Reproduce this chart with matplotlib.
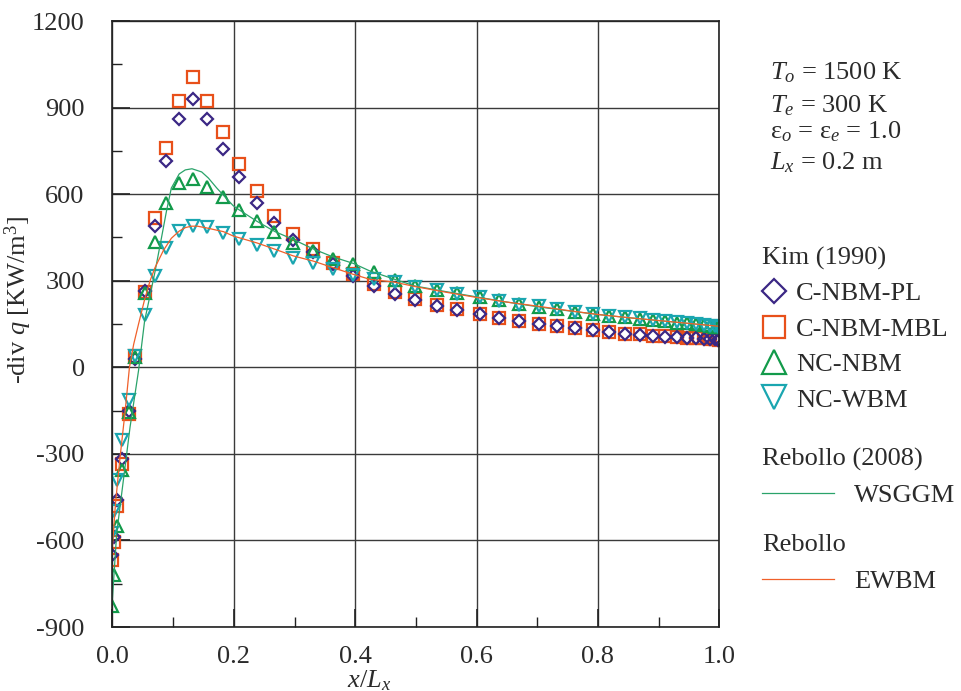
import numpy as np
import matplotlib.pyplot as plt
from matplotlib.ticker import MultipleLocator

plt.rcParams['font.family'] = 'Liberation Serif'
plt.rcParams['mathtext.fontset'] = 'custom'
plt.rcParams['mathtext.rm'] = 'Liberation Serif'
plt.rcParams['mathtext.it'] = 'Liberation Serif:italic'
plt.rcParams['axes.unicode_minus'] = False

# Kim (1990) reference solutions
x_kim = [0.000, 0.003, 0.008, 0.016, 0.027, 0.037, 0.053, 0.070, 0.089, 0.110,
         0.132, 0.156, 0.182, 0.208, 0.238, 0.267, 0.297, 0.330, 0.364, 0.397,
         0.431, 0.465, 0.498, 0.534, 0.567, 0.605, 0.637, 0.670, 0.703, 0.733,
         0.762, 0.792, 0.819, 0.845, 0.869, 0.891, 0.911, 0.930, 0.947, 0.961,
         0.974, 0.984, 0.993, 0.998, 1.000]
c_nbm_pl = [-650, -589, -460, -319, -150, 30, 265, 489, 716, 861,
            930, 861, 757, 661, 570, 500, 441, 400, 359, 317,
            282, 255, 234, 213, 200, 184, 170, 159, 150, 142,
            136, 129, 121, 115, 113, 109, 106, 104, 102, 101,
            99, 98, 97, 96, 95]
c_nbm_mbl = [-667, -604, -480, -334, -161, 40, 261, 518, 759, 923,
             1007, 923, 815, 704, 610, 524, 463, 409, 362, 324,
             288, 261, 236, 215, 203, 186, 172, 160, 151, 143,
             137, 130, 123, 117, 114, 110, 107, 105, 103, 101,
             100, 99, 98, 97, 96]
nc_nbm = [-828, -719, -550, -357, -155, 35, 258, 435, 570, 638,
          652, 625, 589, 545, 506, 468, 431, 403, 374, 357,
          330, 302, 282, 269, 256, 243, 232, 218, 210, 202,
          192, 184, 178, 173, 168, 163, 160, 155, 152, 150,
          147, 144, 141, 140, 139]
nc_wbm = [-573, -498, -389, -253, -113, 40, 181, 316, 412, 472,
          490, 485, 466, 443, 424, 403, 380, 362, 340, 320,
          305, 297, 279, 268, 254, 243, 231, 217, 211, 203,
          191, 185, 179, 174, 170, 164, 161, 156, 153, 150,
          147, 144, 142, 141, 140]

# Rebollo (2008) WSGGM
x_wsggm = [0.000, 0.007, 0.018, 0.029, 0.043, 0.053, 0.062, 0.070, 0.080, 0.089,
           0.097, 0.110, 0.120, 0.131, 0.147, 0.158, 0.172, 0.182, 0.199, 0.207,
           0.238, 0.268, 0.298, 0.331, 0.364, 0.397, 0.424, 0.465, 0.498, 0.550,
           0.600, 0.650, 0.700, 0.750, 0.800, 0.850, 0.900, 0.950, 1.000]
y_wsggm = [-800, -575, -391, -207, -11, 161, 250, 330, 440, 541,
           621, 670, 684, 688, 677, 656, 621, 598, 560, 548,
           506, 470, 443, 410, 382, 360, 334, 305, 282, 262,
           244, 226, 210, 196, 183, 172, 162, 152, 142]

# Rebollo EWBM
x_ewbm = [0.000, 0.005, 0.012, 0.021, 0.028, 0.035, 0.043, 0.053, 0.062, 0.070,
          0.084, 0.097, 0.110, 0.120, 0.130, 0.140, 0.155, 0.183, 0.199, 0.238,
          0.268, 0.298, 0.331, 0.364, 0.397, 0.424, 0.465, 0.498, 0.550, 0.600,
          0.650, 0.700, 0.750, 0.800, 0.850, 0.900, 0.950, 1.000]
y_ewbm = [-620, -472, -322, -150, 0, 80, 150, 235, 300, 345,
          405, 447, 472, 484, 489, 489, 483, 470, 455, 431,
          409, 386, 368, 345, 322, 305, 295, 280, 260, 242,
          226, 212, 197, 183, 172, 162, 152, 142]

txt = '#2b2b2b'

fig = plt.figure(figsize=(9.62, 6.91), dpi=100)
ax = fig.add_axes([0.1169, 0.0926, 0.6308, 0.877])

# markers first, lines on top
h_sq, = ax.plot(x_kim, c_nbm_mbl, 's', ms=8.6, mfc='none', mec='#e8501a', mew=1.6, ls='none', label='C-NBM-MBL')
h_di, = ax.plot(x_kim, c_nbm_pl, 'D', ms=6.4, mfc='none', mec='#3b2785', mew=1.6, ls='none', label='C-NBM-PL')
h_tr, = ax.plot(x_kim, nc_nbm, '^', ms=9, mfc='none', mec='#129a4a', mew=1.6, ls='none', label='NC-NBM')
h_it, = ax.plot(x_kim, nc_wbm, 'v', ms=9, mfc='none', mec='#1aa6b0', mew=1.6, ls='none', label='NC-WBM')
h_w, = ax.plot(x_wsggm, y_wsggm, '-', color='#2aa36a', lw=0.9, label='WSGGM')
h_e, = ax.plot(x_ewbm, y_ewbm, '-', color='#f0602a', lw=0.9, label='EWBM')

ax.set_xlim(0, 1)
ax.set_ylim(-900, 1200)
ax.xaxis.set_major_locator(MultipleLocator(0.2))
ax.xaxis.set_minor_locator(MultipleLocator(0.1))
ax.yaxis.set_major_locator(MultipleLocator(300))
ax.yaxis.set_minor_locator(MultipleLocator(150))
ax.set_xticks(np.arange(0, 1.01, 0.2))
ax.set_xticklabels(['0.0', '0.2', '0.4', '0.6', '0.8', '1.0'])
ax.grid(True, which='major', color='#3a3a3a', lw=1.0)
for s in ax.spines.values():
    s.set_color('#222222')
    s.set_linewidth(1.2)
ax.tick_params(which='both', direction='in', top=False, right=False, colors='#222222', labelcolor=txt, labelsize=19)
ax.tick_params(which='major', length=13, width=1.2)
ax.tick_params(which='minor', length=7, width=1.0)
ax.tick_params(axis='y', pad=20)
ax.tick_params(axis='x', pad=14)

ax.set_ylabel('-div $q$ [KW/m$^3$]', fontsize=19, color=txt)
ax.yaxis.set_label_coords(-0.13, 0.54)
ax.set_xlabel('$x/L_x$', fontsize=19, color=txt)
ax.xaxis.set_label_coords(0.423, -0.068)

# case parameters
fig.text(0.800, 1 - 79 / 691, '$T_o$ = 1500 K', fontsize=19, color=txt, va='baseline')
fig.text(0.800, 1 - 112 / 691, '$T_e$ = 300 K', fontsize=19, color=txt, va='baseline')
fig.text(0.800, 1 - 138 / 691, 'ε$_o$ = ε$_e$ = 1.0', fontsize=19, color=txt, va='baseline')
fig.text(0.800, 1 - 169 / 691, '$L_x$ = 0.2 m', fontsize=19, color=txt, va='baseline')

leg_kw = dict(loc='upper left', frameon=False, fontsize=19, title_fontsize=19,
              borderpad=0, borderaxespad=0, alignment='left', labelcolor=txt)
leg1 = ax.legend(handles=[h_di, h_sq, h_tr, h_it], title='Kim (1990)',
                 bbox_to_anchor=(1.07, 0.627), markerscale=1.9, handlelength=0.9,
                 handletextpad=0.4, labelspacing=0.45, **leg_kw)
ax.add_artist(leg1)
leg2 = ax.legend(handles=[h_w], title='Rebollo (2008)', bbox_to_anchor=(1.07, 0.296),
                 handlelength=2.75, handletextpad=0.75, labelspacing=0.5, **leg_kw)
ax.add_artist(leg2)
leg3 = ax.legend(handles=[h_e], title='Rebollo', bbox_to_anchor=(1.07, 0.153),
                 handlelength=2.75, handletextpad=0.75, labelspacing=0.5, **leg_kw)
for lg in (leg1, leg2, leg3):
    lg.get_title().set_color(txt)

fig.savefig('out.png', dpi=100)
